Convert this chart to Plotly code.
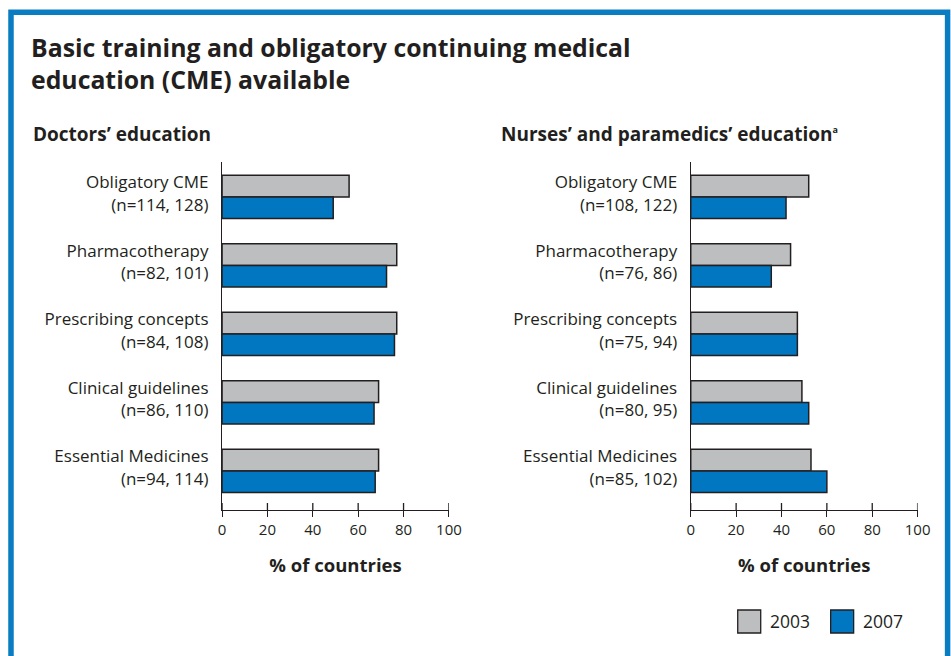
import plotly.graph_objects as go

W, H = 951, 656          # reference picture size (coordinates below are in its pixels)
FIG_W = 964              # rendered figure width (the photo compresses x slightly)
SX, OX = 0.983, 3.8      # observed photo mapping: shown_x = SX * fig_x + OX

categories = ["Obligatory CME", "Pharmacotherapy", "Prescribing concepts",
              "Clinical guidelines", "Essential Medicines"]
doc_n = ["(n=114, 128)", "(n=82, 101)", "(n=84, 108)", "(n=86, 110)", "(n=94, 114)"]
nurse_n = ["(n=108, 122)", "(n=76, 86)", "(n=75, 94)", "(n=80, 95)", "(n=85, 102)"]
doc_2003 = [56, 77, 77, 69, 69]
doc_2007 = [49, 72.5, 76, 67, 67.5]
nurse_2003 = [52, 44, 47, 49, 53]
nurse_2007 = [42, 35.5, 47, 52, 60]
x_ticks = [0, 20, 40, 60, 80, 100]
years = ["2003", "2007"]

GRAY = "#bcbec0"
BLUE = "#0077c0"
DARK = "#231f20"
FONT = "Open Sans"


def px(x):
    return ((x - OX) / SX) / FIG_W


def py(y):
    return 1 - y / H


fig = go.Figure()
for (v03, v07, xa, ya) in [(doc_2003, doc_2007, "x", "y"), (nurse_2003, nurse_2007, "x2", "y2")]:
    fig.add_trace(go.Bar(y=categories, x=v03, orientation="h", name=years[0],
                         marker=dict(color=GRAY, line=dict(color=DARK, width=1.5)),
                         xaxis=xa, yaxis=ya, showlegend=False))
    fig.add_trace(go.Bar(y=categories, x=v07, orientation="h", name=years[1],
                         marker=dict(color=BLUE, line=dict(color=DARK, width=1.5)),
                         xaxis=xa, yaxis=ya, showlegend=False))


def label_ticks(names, ns):
    vals = [i - 0.05 for i in range(len(names))]
    texts = [f"{c}<br>{n}" for c, n in zip(names, ns)]
    return vals, texts


ydom = [py(510), py(162)]
common_x = dict(range=[0, 100], tickvals=x_ticks, ticks="outside", ticklen=6, tickwidth=1.3,
                tickcolor=DARK, showline=True, linecolor=DARK, linewidth=1.3, showgrid=False,
                zeroline=False, fixedrange=True,
                tickfont=dict(family=FONT, size=15, color=DARK),
                title=dict(text="<b>% of countries</b>", font=dict(family=FONT, size=18.5, color=DARK),
                           standoff=20))
common_y = dict(type="category", categoryorder="array", categoryarray=categories,
                range=[4.57, -0.51], showline=True, linecolor=DARK, linewidth=1.3,
                showgrid=False, zeroline=False, ticks="", ticklabelstandoff=9, fixedrange=True,
                tickfont=dict(family=FONT, size=17, color=DARK))

dv, dt = label_ticks(categories, doc_n)
nv, nt = label_ticks(categories, nurse_n)

fig.update_layout(
    width=FIG_W, height=H, autosize=False, margin=dict(l=0, r=0, t=0, b=0),
    paper_bgcolor="white", plot_bgcolor="white",
    barmode="group", bargap=0.37, bargroupgap=0,
    showlegend=False,
    xaxis=dict(domain=[px(222), px(449)], anchor="y", **common_x),
    yaxis=dict(domain=ydom, anchor="x", tickvals=dv, ticktext=dt, **common_y),
    xaxis2=dict(domain=[px(691), px(918)], anchor="y2", **common_x),
    yaxis2=dict(domain=ydom, anchor="x2", tickvals=nv, ticktext=nt, **common_y),
)

shapes = []
# tick marks crossing above the axis line
for xr, yr in [("x", "y domain"), ("x2", "y2 domain")]:
    for t in x_ticks:
        shapes.append(dict(type="line", xref=xr, yref=yr, x0=t, x1=t,
                           ysizemode="pixel", yanchor=0, y0=0, y1=7,
                           line=dict(color=DARK, width=1.3)))
# blue frame
shapes.append(dict(type="rect", xref="paper", yref="paper",
                   x0=px(10.8), x1=px(948), y0=-0.1, y1=py(12.3),
                   line=dict(color="#0a7cc2", width=5.5), fillcolor="rgba(0,0,0,0)", layer="below"))
# custom legend
shapes.append(dict(type="rect", xref="paper", yref="paper", x0=px(738), x1=px(761),
                   y0=py(633), y1=py(610), fillcolor=GRAY, line=dict(color=DARK, width=1.3)))
shapes.append(dict(type="rect", xref="paper", yref="paper", x0=px(831), x1=px(854),
                   y0=py(633), y1=py(610), fillcolor=BLUE, line=dict(color=DARK, width=1.3)))
fig.update_layout(shapes=shapes)

ann = [
    dict(text="<b>Basic training and obligatory continuing medical<br>education (CME) available</b>",
         x=px(29), y=py(63), xanchor="left", yanchor="middle", align="left",
         font=dict(family=FONT, size=24.8, color=DARK)),
    dict(text="<b>Doctors’ education</b>", x=px(31), y=py(134), xanchor="left", yanchor="middle",
         font=dict(family=FONT, size=19, color=DARK)),
    dict(text="<b>Nurses’ and paramedics’ education</b><sup><span style='font-size:9px'><b>a</b></span></sup>",
         x=px(499), y=py(134),
         xanchor="left", yanchor="middle", font=dict(family=FONT, size=19, color=DARK)),
    dict(text=years[0], x=px(768), y=py(621), xanchor="left", yanchor="middle",
         font=dict(family=FONT, size=17.5, color=DARK)),
    dict(text=years[1], x=px(861), y=py(621), xanchor="left", yanchor="middle",
         font=dict(family=FONT, size=17.5, color=DARK)),
]
for a in ann:
    a.update(xref="paper", yref="paper", showarrow=False)
fig.update_layout(annotations=ann)

fig.write_html("out.html",
               config={"responsive": False, "displayModeBar": False},
               post_script="document.body.style.margin='0';"
                           "document.body.style.overflow='hidden';"
                           "document.documentElement.style.overflow='hidden';")
